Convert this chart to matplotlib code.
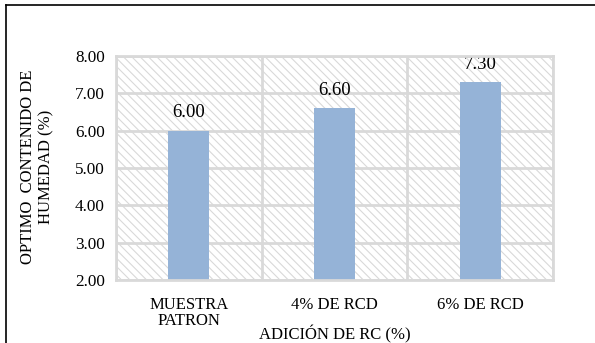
import matplotlib

matplotlib.use("Agg")
import matplotlib.pyplot as plt
from matplotlib.lines import Line2D

categories = ["MUESTRA\nPATRON", "4% DE RCD", "6% DE RCD"]
humidity = [6.00, 6.60, 7.30]
value_labels = ["6.00", "6.60", "7.30"]
y_ticks = [2, 3, 4, 5, 6, 7, 8]

GRID = "#d9d9d9"
BAR = "#95b3d7"

plt.rcParams["font.family"] = ["Liberation Serif", "DejaVu Serif"]
plt.rcParams["hatch.linewidth"] = 0.8
plt.rcParams["hatch.color"] = GRID

fig = plt.figure(figsize=(5.95, 3.43), dpi=100)
ax = fig.add_axes([116 / 595, 1 - 280 / 343, 437 / 595, 224 / 343])

# hatched plot background
ax.patch.set_hatch("\\\\\\\\")
ax.patch.set_edgecolor(GRID)
ax.patch.set_linewidth(0)

x = list(range(len(categories)))
ax.bar(x, humidity, width=0.28, color=BAR, zorder=2)

# labels sit under the frame so the top one gets cut like in the original
for xi, val, lab in zip(x, humidity, value_labels):
    ax.annotate(lab, (xi, val), xytext=(0, 9.7), textcoords="offset points",
                ha="center", va="baseline", fontsize=13.5, zorder=2.2)

ax.set_xlim(-0.5, 2.5)
ax.set_ylim(2, 8)
ax.set_yticks(y_ticks)
ax.set_yticklabels([f"{t:.2f}" for t in y_ticks], fontsize=12.3)
ax.set_xticks(x)
ax.set_xticklabels(categories, fontsize=12, linespacing=1.0, va="top")
ax.set_xticks([-0.5, 0.5, 1.5, 2.5], minor=True)
ax.tick_params(axis="both", which="both", length=0)
ax.tick_params(axis="y", pad=8)
ax.tick_params(axis="x", pad=12)

ax.set_axisbelow(True)
ax.grid(True, axis="y", color=GRID, linewidth=2.0)
ax.grid(True, axis="x", which="minor", color=GRID, linewidth=2.0)
ax.grid(False, axis="x", which="major")
for sp in ax.spines.values():
    sp.set_color(GRID)
    sp.set_linewidth(2.0)

ax.set_xlabel("ADICIÓN DE RC (%)", fontsize=12)
ax.xaxis.set_label_coords(0.5, -0.2)

fig.text(37.5 / 595, 1 - 167 / 343, "OPTIMO  CONTENIDO DE\nHUMEDAD (%)",
         rotation=90, ha="center", va="center", multialignment="center",
         fontsize=12, linespacing=1.2)

# outer frame (top and left edges visible)
fig.add_artist(Line2D([6 / 595, 1], [1 - 5 / 343, 1 - 5 / 343],
                      transform=fig.transFigure, color="black", linewidth=1.2))
fig.add_artist(Line2D([6 / 595, 6 / 595], [0, 1 - 5 / 343],
                      transform=fig.transFigure, color="black", linewidth=1.2))

fig.savefig("out.png", dpi=100)
